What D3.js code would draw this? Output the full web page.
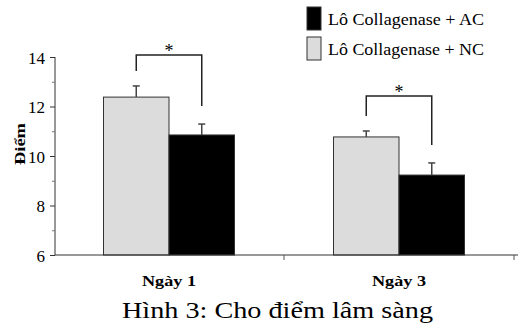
<!DOCTYPE html>
<html>
<head>
<meta charset="utf-8">
<script src="https://cdn.jsdelivr.net/npm/d3@7"></script>
<style>
  body { margin: 0; background: #fff; }
  svg text { font-family: "Times New Roman", "Liberation Serif", Tinos, Times, serif; }
</style>
</head>
<body>
<div id="chart"></div>
<script>
// data
var days = ["Ngày 1", "Ngày 3"];
var groups = ["NC", "AC"];
var groupLabels = ["Lô Collagenase + AC", "Lô Collagenase + NC"];
var valuesNC = [12.38, 10.77];
var valuesAC = [10.85, 9.23];
var errNC = [0.45, 0.24];
var errAC = [0.44, 0.49];
var bracketLevel = [14.08, 12.42];
var yTicks = [6, 8, 10, 12, 14];
var yMinor = [7, 9, 11, 13];

var W = 518, H = 327;
var svg = d3.select("#chart").append("svg")
    .attr("width", W)
    .attr("height", H);

// scales
var x = d3.scaleBand().domain(days).range([54, 514]).padding(0);
var xs = d3.scaleBand().domain(groups)
    .range([(x.bandwidth() - 131) / 2, (x.bandwidth() + 131) / 2]);
var y = d3.scaleLinear().domain([6, 14]).range([255, 57]);

var rows = [];
days.forEach(function(d, i) {
    rows.push({day: d, g: "NC", v: valuesNC[i], e: errNC[i]});
    rows.push({day: d, g: "AC", v: valuesAC[i], e: errAC[i]});
});
var fill = {NC: "#dcdcdc", AC: "#000"};

// bars
svg.selectAll("rect.bar")
    .data(rows)
    .enter()
    .append("rect")
    .attr("class", "bar")
    .attr("x", function(d){ return x(d.day) + xs(d.g) })
    .attr("y", function(d){ return y(d.v) })
    .attr("width", xs.bandwidth())
    .attr("height", function(d){ return y(6) - y(d.v) })
    .style("fill", function(d){ return fill[d.g] })
    .style("stroke", "#333")
    .style("stroke-width", 1);

// error bars (upper only)
var eb = svg.selectAll("g.err")
    .data(rows)
    .enter()
    .append("g")
    .attr("class", "err")
    .attr("transform", function(d){ return "translate(" + (x(d.day) + xs(d.g) + xs.bandwidth()/2) + ",0)" });
eb.append("line")
    .attr("y1", function(d){ return y(d.v) })
    .attr("y2", function(d){ return y(d.v + d.e) })
    .style("stroke", "#444").style("stroke-width", 1.5);
eb.append("line")
    .attr("x1", -3.5).attr("x2", 3.5)
    .attr("y1", function(d){ return y(d.v + d.e) })
    .attr("y2", function(d){ return y(d.v + d.e) })
    .style("stroke", "#444").style("stroke-width", 1.5);

// significance brackets
days.forEach(function(d, i) {
    var cx1 = x(d) + xs("NC") + xs.bandwidth()/2;
    var cx2 = x(d) + xs("AC") + xs.bandwidth()/2;
    var top = y(bracketLevel[i]);
    var b1 = y(valuesNC[i] + errNC[i]) - 15;
    var b2 = y(valuesAC[i] + errAC[i]) - 18;
    svg.append("path")
        .attr("d", "M" + cx1 + "," + b1 + "V" + top + "H" + cx2 + "V" + b2)
        .style("fill", "none")
        .style("stroke", "#222")
        .style("stroke-width", 1.5);
    svg.append("text")
        .attr("x", (cx1 + cx2)/2)
        .attr("y", top + 2)
        .attr("text-anchor", "middle")
        .style("font-size", "18px")
        .text("*");
});

// y axis
var yAxis = svg.append("g")
    .attr("transform", "translate(55,0)")
    .call(d3.axisLeft(y).tickValues(yTicks).tickSize(5).tickPadding(5).tickFormat(d3.format("d")));
yAxis.attr("font-family", null);
yAxis.selectAll("text").style("font-size", "17px").attr("dy", "0.36em");
yAxis.select(".domain").attr("d", "M0," + y(6) + "V" + y(14)).style("stroke", "#333");
yAxis.selectAll(".tick line").style("stroke", "#333");
svg.append("g")
    .attr("transform", "translate(55,0)")
    .call(d3.axisLeft(y).tickValues(yMinor).tickSize(3).tickFormat(""))
    .call(function(g){ g.select(".domain").remove() })
    .selectAll("line").style("stroke", "#777");

// x axis
var xAxis = svg.append("g")
    .attr("transform", "translate(0," + y(6) + ")");
xAxis.append("line")
    .attr("x1", 55).attr("x2", W)
    .style("stroke", "#333");
xAxis.selectAll("line.tk")
    .data([x.range()[0] + x.bandwidth(), x.range()[1]])
    .enter()
    .append("line")
    .attr("x1", function(d){ return d }).attr("x2", function(d){ return d })
    .attr("y1", 0).attr("y2", 5)
    .style("stroke", "#555");
xAxis.selectAll("text")
    .data(days)
    .enter()
    .append("text")
    .attr("x", function(d){ return x(d) + x.bandwidth()/2 - 27 })
    .attr("y", 31)
    .attr("textLength", 54)
    .attr("lengthAdjust", "spacingAndGlyphs")
    .style("font-size", "15px")
    .style("font-weight", "bold")
    .text(function(d){ return d });

// y label
svg.append("text")
    .attr("transform", "translate(25,165) rotate(-90)")
    .attr("textLength", 42)
    .attr("lengthAdjust", "spacingAndGlyphs")
    .style("font-size", "14px")
    .style("font-weight", "bold")
    .text("Điểm");

// legend
var legend = svg.selectAll("g.leg")
    .data(["AC", "NC"])
    .enter()
    .append("g")
    .attr("class", "leg")
    .attr("transform", function(d, i){ return "translate(307," + (7 + i * 30) + ")" });
legend.append("rect")
    .attr("width", 14).attr("height", 23)
    .style("fill", function(d){ return fill[d] })
    .style("stroke", "#333");
legend.append("text")
    .attr("x", 21).attr("y", 18)
    .attr("textLength", 156)
    .attr("lengthAdjust", "spacingAndGlyphs")
    .style("font-size", "17px")
    .text(function(d, i){ return groupLabels[i] });

// caption
svg.append("text")
    .attr("x", 122)
    .attr("y", 318)
    .attr("textLength", 311)
    .attr("lengthAdjust", "spacingAndGlyphs")
    .style("font-size", "23px")
    .text("Hình 3: Cho điểm lâm sàng");
</script>
</body>
</html>
